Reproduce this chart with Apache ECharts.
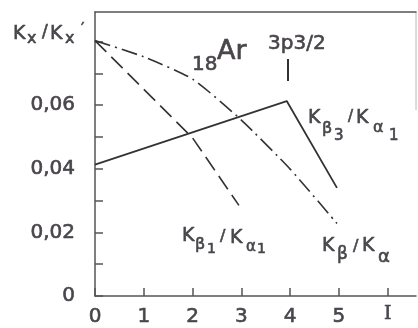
<!DOCTYPE html>
<html><head><meta charset="utf-8">
<script src="https://cdn.jsdelivr.net/npm/echarts@6/dist/echarts.min.js"></script>
<style>html,body{margin:0;padding:0;background:#fff}#c{width:418px;height:328px}</style>
</head><body><div id="c"></div>
<script>
// ---- data ----
const xTickValues = [0, 1, 2, 3, 4, 5, 6];
const xTickLabels = ['0', '1', '2', '3', '4', '5', 'I'];
const yTickValues = [0, 0.01, 0.02, 0.03, 0.04, 0.05, 0.06, 0.07, 0.08];
const yLabelValues = [0, 0.02, 0.04, 0.06];
const yLabelTexts = ['0', '0,02', '0,04', '0,06'];

// K_beta3 / K_alpha1 (solid)
const kb3X = [0, 3.93, 4.96];
const kb3Y = [0.0413, 0.0613, 0.0340];
// K_beta1 / K_alpha1 (dashed)
const kb1X = [0, 2, 2.95];
const kb1Y = [0.0803, 0.0497, 0.0285];
// K_beta / K_alpha (dash-dot)
const kbX = [0, 1, 2, 3, 4, 4.96];
const kbY = [0.0803, 0.0752, 0.0682, 0.0553, 0.0399, 0.0228];

const zip = (xs, ys) => xs.map((x, i) => [x, ys[i]]);

const LINE = '#333333';
const TXT = '#48454b';
const FONT = 'DejaVu Sans';

const chart = echarts.init(document.getElementById('c'), null, {renderer: 'canvas'});

function T(text, x, cy, size, family) {
  return {type: 'text', x: x, y: cy, silent: true,
    style: {text: text, fill: TXT, stroke: TXT, lineWidth: 0.6, font: size + 'px "' + (family || FONT) + '"', align: 'left', verticalAlign: 'middle'}};
}

const graphics = [
  // Kx/Kx'
  T('K', 13, 34, 19), T('x', 27, 39, 16), T('/', 42, 33, 17), T('K', 50, 34, 19), T('x', 65, 39, 16), T('\u2032', 81, 30, 15),
  // 18Ar
  T('18', 192, 65, 20), T('Ar', 217, 52, 27),
  // 3p3/2
  T('3p3/2', 268, 44, 20),
  {type: 'line', silent: true, shape: {x1: 288, y1: 59, x2: 288, y2: 81}, style: {stroke: LINE, lineWidth: 2}},
  // Kβ3/Kα1
  T('K', 308, 118.5, 19), T('\u03B2', 322, 129, 16), T('3', 334, 136, 15), T('/', 348, 117, 15), T('K', 356, 118.5, 19), T('\u03B1', 373, 128, 16), T('1', 389, 136, 15),
  // Kβ1/Kα1
  T('K', 182, 236.5, 19), T('\u03B2', 195, 245, 16), T('1', 207, 249, 14), T('/', 220, 237, 16), T('K', 230, 238, 19), T('\u03B1', 246, 247, 15), T('1', 257, 249, 14),
  // Kβ/Kα
  T('K', 322, 246.5, 19), T('\u03B2', 337, 255, 17), T('/', 353, 247, 16), T('K', 362, 246.5, 19), T('\u03B1', 378, 257, 18),
  // faint right frame
  {type: 'line', silent: true, shape: {x1: 416, y1: 12, x2: 416, y2: 110}, style: {stroke: '#b8b8b8', lineWidth: 1}}
];

chart.setOption({
  animation: false,
  backgroundColor: '#ffffff',
  grid: {left: 95, right: 2, top: 12, bottom: 32, containLabel: false},
  xAxis: [{
    type: 'value', min: 0, max: 6.58, position: 'bottom',
    axisLine: {lineStyle: {color: '#555', width: 1.5}},
    axisTick: {inside: true, length: 8, customValues: xTickValues, lineStyle: {color: '#555', width: 1.5}},
    axisLabel: {customValues: xTickValues, margin: 11, fontSize: 20, lineHeight: 20, fontFamily: FONT, color: TXT,
      textBorderColor: TXT, textBorderWidth: 0.6,
      formatter: v => { const i = xTickValues.indexOf(v); const s = i >= 0 ? xTickLabels[i] : ''; return s === 'I' ? '{s|I}' : s; },
      rich: {s: {fontFamily: 'DejaVu Serif', fontSize: 19, color: TXT, textBorderColor: TXT, textBorderWidth: 0.6, padding: [0, 0, 6, 0]}}},
    splitLine: {show: false}
  }, {
    type: 'value', min: 0, max: 6.58, position: 'top',
    axisLine: {show: true, lineStyle: {color: '#555', width: 1.5}},
    axisTick: {show: false}, axisLabel: {show: false}, splitLine: {show: false}
  }],
  yAxis: {
    type: 'value', min: 0, max: 0.0893,
    axisLine: {show: true, lineStyle: {color: '#555', width: 1.5}},
    axisTick: {show: true, inside: true, length: 8, customValues: yTickValues, lineStyle: {color: '#555', width: 1.5}},
    axisLabel: {customValues: yLabelValues, margin: 20, fontSize: 20, fontFamily: FONT, color: TXT, padding: [8, 0, 0, 0],
      textBorderColor: TXT, textBorderWidth: 0.6,
      formatter: v => { const i = yLabelValues.findIndex(u => Math.abs(u - v) < 1e-9); return i >= 0 ? yLabelTexts[i] : ''; }},
    splitLine: {show: false}
  },
  series: [
    {type: 'line', name: 'Kβ3/Kα1', data: zip(kb3X, kb3Y), symbol: 'none',
      lineStyle: {color: LINE, width: 1.8}},
    {type: 'line', name: 'Kβ1/Kα1', data: zip(kb1X, kb1Y), symbol: 'none',
      lineStyle: {color: LINE, width: 1.6, type: [16, 7]}},
    {type: 'line', name: 'Kβ/Kα', data: zip(kbX, kbY), symbol: 'none', smooth: 0.2,
      lineStyle: {color: LINE, width: 1.6, type: [16, 5, 2, 5]}}
  ],
  graphic: graphics
});
</script>
</body></html>
